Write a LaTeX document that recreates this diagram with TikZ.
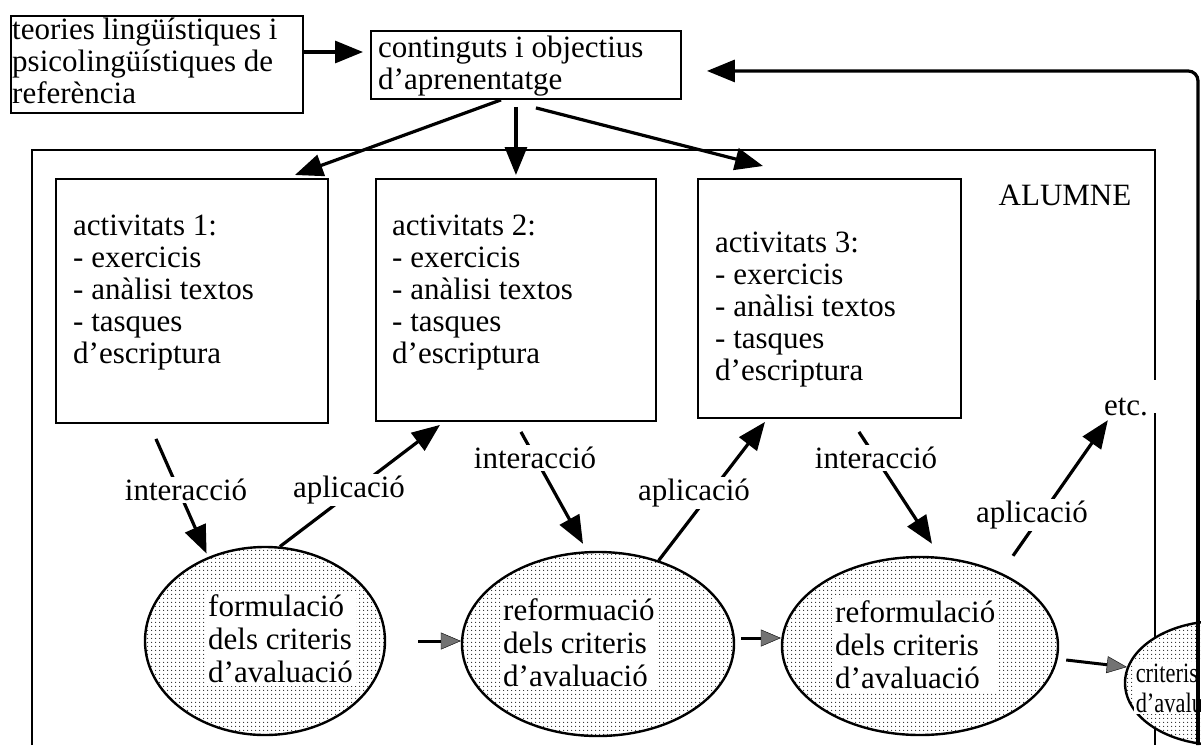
\documentclass[tikz,border=0pt]{standalone}
\usepackage{fontspec}
\setmainfont{Liberation Serif}
\usetikzlibrary{arrows.meta,shapes.geometric,patterns.meta}

\tikzset{
  box/.style={draw, line width=1.9pt, inner sep=0pt, anchor=north west},
  frame/.style={line width=2.2pt},
  txt/.style={align=left, inner sep=0pt, anchor=north west,
              font=\fontsize{31}{32}\selectfont},
  ell/.style={ellipse, draw, line width=2.4pt, inner sep=0pt,
              preaction={fill=white},
              pattern={Dots[distance=4pt,radius=0.75pt]}, pattern color=black!85},
  etxt/.style={align=left, inner sep=3pt, fill=white, anchor=west,
               font=\fontsize{31}{33}\selectfont},
  lbl/.style={fill=white, inner sep=2pt, font=\fontsize{31}{33}\selectfont},
  arr/.style={line width=3.2pt, -{Triangle[length=28pt,width=22pt]}},
  garr/.style={line width=3pt,
               -{Triangle[length=20pt,width=17pt,line width=0.4pt,fill=black!55]}}
}

\begin{document}
\begin{tikzpicture}[x=1pt,y=-1pt]
\useasboundingbox (0,0) rectangle (1201,745);
\clip (0,0) rectangle (1201,745);

% top boxes
\node[box, minimum width=292pt, minimum height=97pt] (teo) at (10,15) {};
\node[txt] (teotxt) at (12,18) {teories lingüístiques i\\psicolingüístiques de\\referència};
\node[box, minimum width=310pt, minimum height=68pt] (cont) at (370,30) {};
\node[txt] (conttxt) at (378,36) {continguts i objectius\\d’aprenentatge};

% student frame
\draw[frame] (32,745) -- (32,150) -- (1155,150) -- (1155,380);
\draw[frame] (1155,413) -- (1155,745);
\node[txt, anchor=center] (alumne) at (1065,195) {ALUMNE};

% activity boxes
\node[box, minimum width=272pt, minimum height=244pt] (b1) at (55,178) {};
\node[box, minimum width=280pt, minimum height=242pt] (b2) at (375,178) {};
\node[box, minimum width=263pt, minimum height=239pt] (b3) at (697,178) {};
\node[txt] (b1t) at (73,215) {activitats 1:\\- exercicis\\- anàlisi textos\\- tasques\\d’escriptura};
\node[txt] (b2t) at (392,215) {activitats 2:\\- exercicis\\- anàlisi textos\\- tasques\\d’escriptura};
\node[txt] (b3t) at (715,232) {activitats 3:\\- exercicis\\- anàlisi textos\\- tasques\\d’escriptura};

% evaluation criteria
\node[ell, minimum width=240pt, minimum height=188pt] (e1) at (265,641) {};
\node[ell, minimum width=272pt, minimum height=184pt] (e2) at (598,644) {};
\node[ell, minimum width=276pt, minimum height=178pt] (e3) at (920,646) {};
\node[ell, minimum width=190pt, minimum height=124pt] (crit) at (1220,683) {};
\node[etxt] (e1t) at (205,639) {formulació\\dels criteris\\d’avaluació};
\node[etxt] (e2t) at (500,643) {reformuació\\dels criteris\\d’avaluació};
\node[etxt] (e3t) at (832,645) {reformulació\\dels criteris\\d’avaluació};
\node[etxt, inner sep=2pt, font=\fontsize{28}{30}\selectfont, xscale=0.8, transform shape]
  (critt) at (1134,688) {criteris\\d’avaluació};

% top connectors
\draw[arr] (teo.east |- 0,52) -- ([xshift=-7pt]cont.west |- 0,52);
\draw[arr] ([xshift=-25pt]cont.south) -- ([xshift=-34pt,yshift=3pt]b1.north east);
\draw[arr] ([xshift=-10pt,yshift=-7pt]cont.south) -- ([yshift=3pt]b2.north);
\draw[arr] ([xshift=10pt,yshift=-8pt]cont.south) -- ([xshift=66pt,yshift=12pt]b3.north west);

% feedback loop
\coordinate (fb) at (1198,745);
\draw[arr, rounded corners=10pt] (fb) |- ([xshift=25pt,yshift=-6pt]cont.east);

% interaction / application
\draw[arr] ([xshift=-36pt,yshift=-15pt]b1.south) -- ([yshift=4pt]e1.125);
\draw[arr] (e1.81) -- ([xshift=65pt,yshift=-3pt]b2.south west);
\draw[arr] ([xshift=5pt,yshift=-10pt]b2.south) -- ([xshift=-15pt,yshift=7pt]e2.north);
\draw[arr] (e2.54) -- ([xshift=68pt,yshift=-3pt]b3.south west);
\draw[arr] ([xshift=29.5pt,yshift=-13pt]b3.south) -- ([xshift=12pt,yshift=12pt]e3.north);
\node[txt, inner sep=0pt, anchor=center] (etc) at (1126,407) {etc.};
\draw[arr] ([xshift=93pt]e3.north) -- ([xshift=4pt,yshift=-4pt]etc.south west);

\node[lbl] (l1) at (186,490) {interacció};
\node[lbl] (l2) at (349,490) {aplicació};
\node[lbl] (l3) at (535,458) {interacció};
\node[lbl] (l4) at (694,493) {aplicació};
\node[lbl] (l5) at (876,458) {interacció};
\node[lbl] (l6) at (1032,515) {aplicació};

% criteria sequence
\draw[garr] ([xshift=32pt]e1.east) -- (e2.west |- e1.east);
\draw[garr] ([xshift=6pt,yshift=6pt]e2.east) -- ([yshift=6pt]e3.west |- e2.east);
\draw[garr] ([xshift=7pt,yshift=-14pt]e3.east) -- ([xshift=3pt,yshift=16pt]crit.west);

% return line drawn over the last ellipse
\draw[line width=3.2pt] (fb) -- (1198,300);
\end{tikzpicture}
\end{document}
